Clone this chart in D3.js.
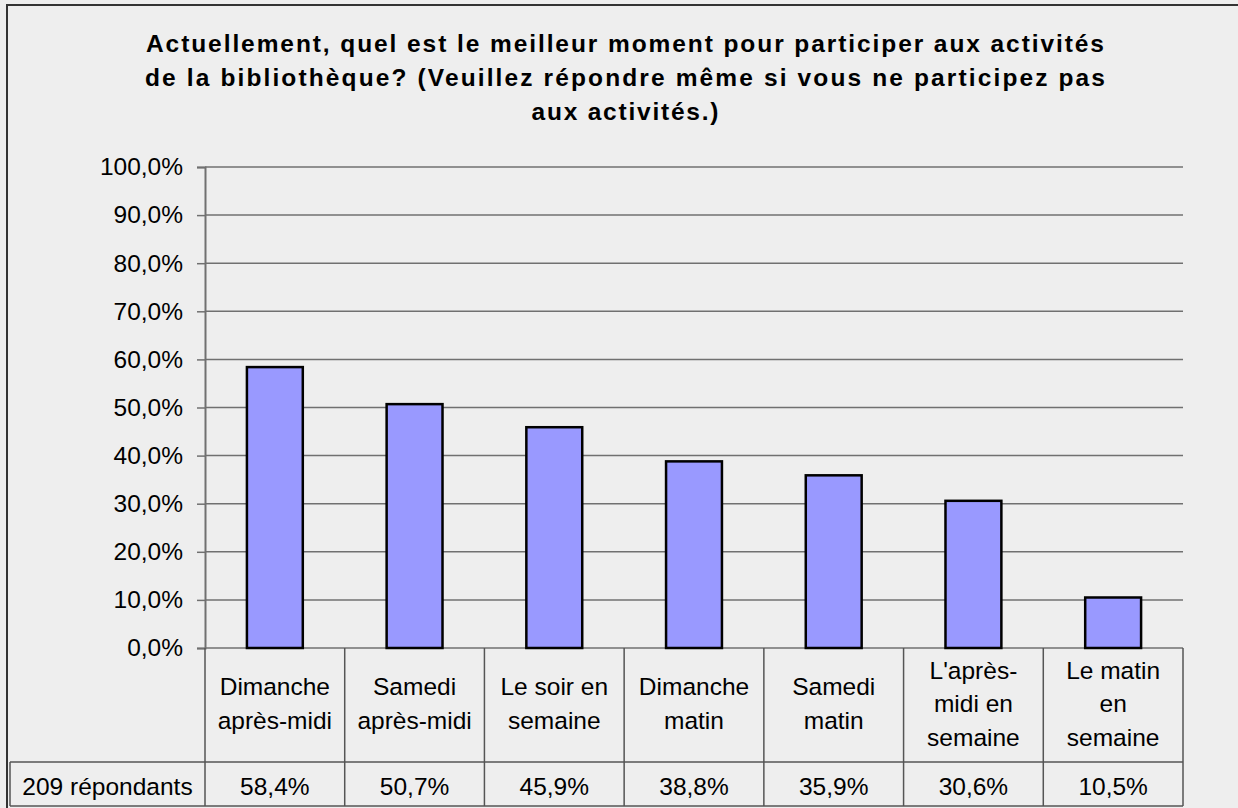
<!DOCTYPE html>
<html>
<head>
<meta charset="utf-8">
<script src="https://cdn.jsdelivr.net/npm/d3@7"></script>
<style>
  html, body { margin: 0; padding: 0; background: #eeeeee; }
  svg { display: block; font-family: "Liberation Sans", Arial, sans-serif; }
</style>
</head>
<body>
<svg id="chart" width="1238" height="808"></svg>
<script>
// data
var titleLines = [
    "Actuellement, quel est le meilleur moment pour participer aux activités",
    "de la bibliothèque? (Veuillez répondre même si vous ne participez pas",
    "aux activités.)"
];
var titleWidths = [958, 960, 187];

var categories = [
    ["Dimanche", "après-midi"],
    ["Samedi", "après-midi"],
    ["Le soir en", "semaine"],
    ["Dimanche", "matin"],
    ["Samedi", "matin"],
    ["L'après-", "midi en", "semaine"],
    ["Le matin", "en", "semaine"]
];
var values = [58.4, 50.7, 45.9, 38.8, 35.9, 30.6, 10.5];
var yTicks = [0, 10, 20, 30, 40, 50, 60, 70, 80, 90, 100];
var rowLabel = "209 répondants";

var svg = d3.select("#chart");
var fontSize = 24.5;
var fmt = function(v) { return v.toFixed(1).replace(".", ",") + "%"; };

// background and frame
svg.append("rect").attr("x", 0).attr("y", 0).attr("width", 1238).attr("height", 808).attr("fill", "#eeeeee");
svg.append("rect")
    .attr("x", 7).attr("y", 5).attr("width", 1240).attr("height", 820)
    .attr("fill", "none").attr("stroke", "#333").attr("stroke-width", 2);

const plotLeft = 205, plotRight = 1183, plotTop = 167, plotBottom = 648;
const rowTop = 762, rowBottom = 806, tableLeft = 10;

const keys = categories.map(function(c, i) { return "c" + i; });
const x = d3.scaleBand().domain(keys).range([plotLeft, plotRight]).padding(0);
const y = d3.scaleLinear().domain([0, 100]).range([plotBottom, plotTop]);

// title
var title = svg.append("g").attr("font-weight", "bold").attr("font-size", fontSize).attr("fill", "#000");
titleLines.forEach(function(t, i) {
    title.append("text")
        .attr("x", 625 - titleWidths[i] / 2)
        .attr("y", 52 + i * 34)
        .attr("textLength", titleWidths[i])
        .attr("lengthAdjust", "spacing")
        .text(t);
});

// gridlines
svg.append("g").selectAll("line")
    .data(yTicks)
    .enter().append("line")
    .attr("x1", plotLeft).attr("x2", plotRight)
    .attr("y1", function(d) { return y(d); })
    .attr("y2", function(d) { return y(d); })
    .attr("stroke", "#707070").attr("stroke-width", 1.5);

// y axis
var yAxis = svg.append("g")
    .attr("transform", "translate(" + plotLeft + ",0)")
    .call(d3.axisLeft(y).tickValues(yTicks).tickSize(8).tickPadding(14).tickFormat(fmt));
yAxis.select(".domain").attr("stroke", "#707070").attr("stroke-width", 2);
yAxis.selectAll(".tick line").attr("stroke", "#707070").attr("stroke-width", 1.5);
yAxis.selectAll(".tick text")
    .attr("font-size", fontSize)
    .attr("font-family", "'Liberation Sans', Arial, sans-serif")
    .attr("fill", "#000");

// bars
const barW = x.bandwidth() * 0.4;
svg.append("g").selectAll("rect")
    .data(values)
    .enter().append("rect")
    .attr("x", function(d, i) { return x(keys[i]) + (x.bandwidth() - barW) / 2; })
    .attr("y", function(d) { return y(d); })
    .attr("width", barW)
    .attr("height", function(d) { return y(0) - y(d); })
    .attr("fill", "#9999ff")
    .attr("stroke", "#000")
    .attr("stroke-width", 2.5);

// data table
var table = svg.append("g").attr("stroke", "#555").attr("stroke-width", 1.5);
keys.concat(["end"]).forEach(function(k, i) {
    var xx = i < keys.length ? x(k) : plotRight;
    table.append("line").attr("x1", xx).attr("x2", xx).attr("y1", plotBottom).attr("y2", rowBottom);
});
table.append("line").attr("x1", tableLeft).attr("x2", tableLeft).attr("y1", rowTop).attr("y2", rowBottom);
table.append("line").attr("x1", tableLeft).attr("x2", plotRight).attr("y1", rowTop).attr("y2", rowTop);
table.append("line").attr("x1", tableLeft).attr("x2", plotRight).attr("y1", rowBottom).attr("y2", rowBottom);

var labels = svg.append("g").attr("font-size", fontSize).attr("text-anchor", "middle").attr("fill", "#000");
categories.forEach(function(lines, i) {
    var cx = x(keys[i]) + x.bandwidth() / 2;
    var lh = 33.5;
    var first = (plotBottom + rowTop) / 2 - (lines.length - 1) * lh / 2 + 7;
    var t = labels.append("text");
    lines.forEach(function(l, j) {
        t.append("tspan").attr("x", cx).attr("y", first + j * lh).text(l);
    });
    labels.append("text")
        .attr("x", cx)
        .attr("y", 795)
        .text(fmt(values[i]));
});
labels.append("text")
    .attr("x", (tableLeft + plotLeft) / 2)
    .attr("y", 795)
    .text(rowLabel);
</script>
</body>
</html>
